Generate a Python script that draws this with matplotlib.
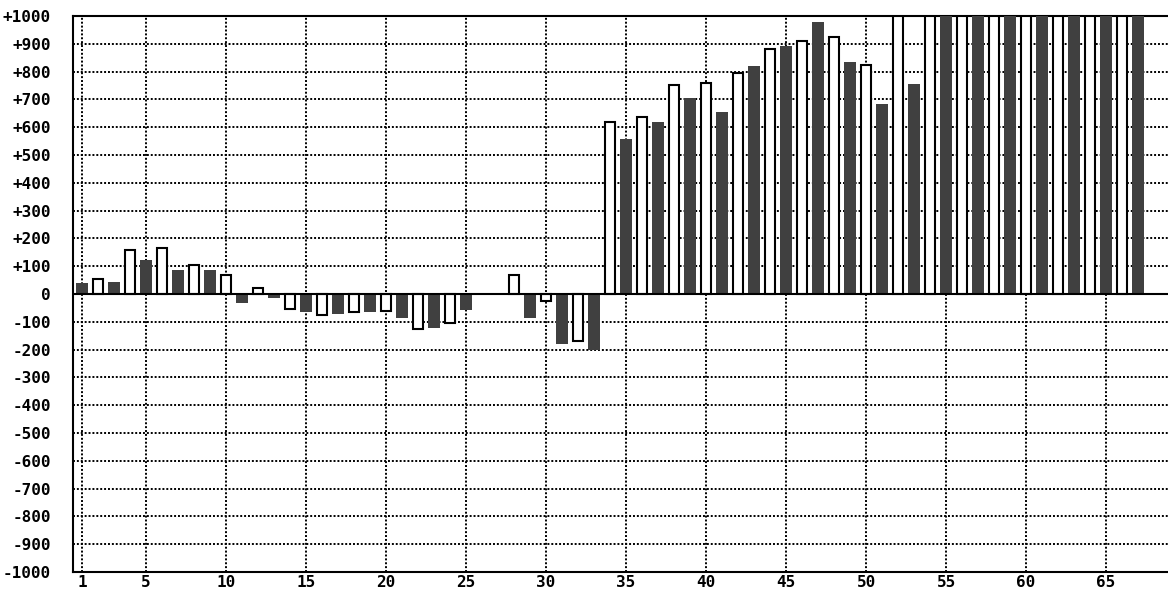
import numpy as np
import matplotlib
matplotlib.use('Agg')
import matplotlib.pyplot as plt

# dark bars sit on odd positions, white bars on even positions
dark_x = [1, 3, 5, 7, 9, 11, 13, 15, 17, 19, 21, 23, 25, 29, 31, 33,
          35, 37, 39, 41, 43, 45, 47, 49, 51, 53, 55, 57, 59, 61, 63, 65, 67]
dark_y = [38, 43, 124, 88, 88, -34, -13, -65, -71, -65, -86, -123, -57, -87, -181, -202,
          559, 617, 704, 653, 820, 892, 979, 834, 682, 754, 1000, 1000, 1000, 1000, 1000, 1000, 1000]

white_x = [2, 4, 6, 8, 10, 12, 14, 16, 18, 20, 22, 24, 28, 30, 32,
           34, 36, 38, 40, 42, 44, 46, 48, 50, 52, 54, 56, 58, 60, 62, 64, 66]
white_y = [55, 157, 164, 105, 70, 21, -53, -76, -63, -62, -127, -106, 70, -26, -170,
           620, 635, 750, 758, 795, 881, 911, 925, 823, 1000, 1000, 1000, 1000, 1000, 1000, 1000, 1000]

xticks = [1, 5, 10, 15, 20, 25, 30, 35, 40, 45, 50, 55, 60, 65]
yticks = list(range(-1000, 1001, 100))
ylabels = ['%+d' % v if v != 0 else '0' for v in yticks]

plt.rcParams['font.family'] = 'DejaVu Sans Mono'
plt.rcParams['font.weight'] = 'bold'

fig = plt.figure(figsize=(11.68, 5.92), dpi=100)
ax = fig.add_axes([73/1168, 1-572/592, 1-73/1168, (572-16)/592])

ax.bar(dark_x, dark_y, width=0.75, color='#404040', zorder=3)
ax.bar(white_x, white_y, width=0.68, color='white', edgecolor='black', linewidth=1.5, zorder=3)
ax.axhline(0, color='black', linewidth=1.5, zorder=4)

ax.set_xlim(0.4375, 68.875)
ax.set_ylim(-1000, 1000)
ax.set_xticks(xticks)
ax.set_yticks(yticks)
ax.set_yticklabels(ylabels)
ax.tick_params(length=0, labelsize=11.5, colors='black')
ax.tick_params(axis='y', pad=16)
ax.tick_params(axis='x', pad=2)
ax.grid(True, color='black', linestyle=(0, (1, 1)), linewidth=1.4, zorder=0)
ax.set_axisbelow(True)

for s in ['left', 'top', 'bottom']:
    ax.spines[s].set_linewidth(1.5)
ax.spines['right'].set_visible(False)

fig.savefig('out.png', dpi=100)
